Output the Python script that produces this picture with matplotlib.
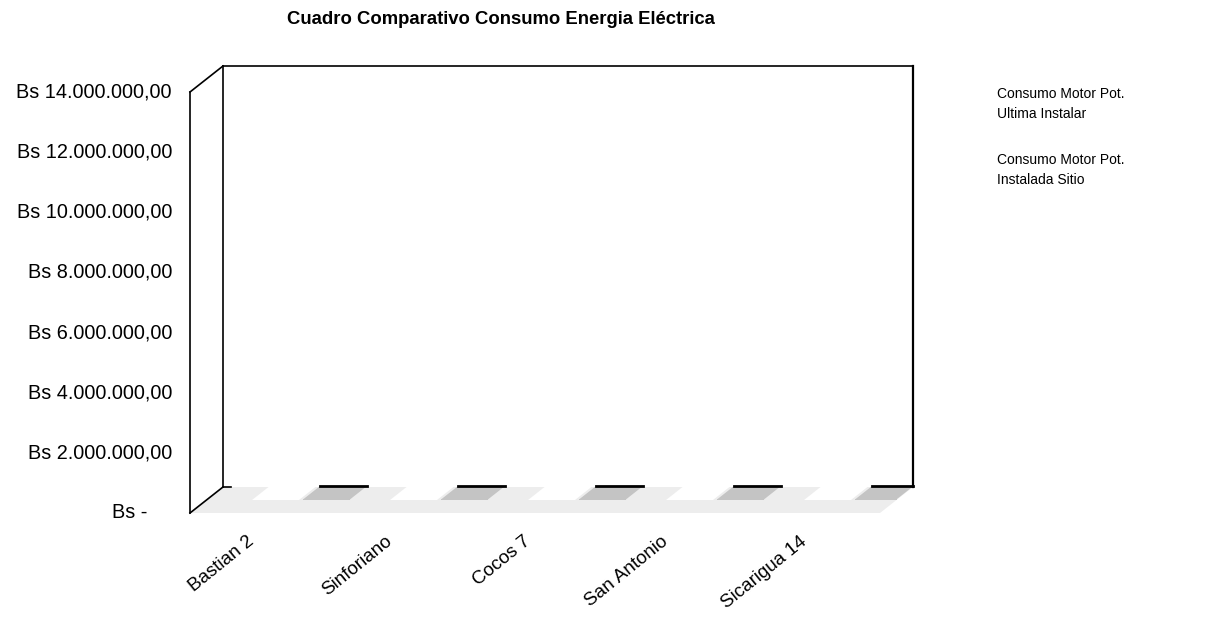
import matplotlib.pyplot as plt
from matplotlib.patches import Polygon, Patch
from matplotlib.lines import Line2D
from matplotlib.transforms import IdentityTransform

plt.rcParams['font.family'] = ['Liberation Sans', 'DejaVu Sans']

categories = ['Bastian 2', 'Sinforiano', 'Cocos 7', 'San Antonio', 'Sicarigua 14']
series_labels = ['Consumo Motor Pot.\nUltima Instalar', 'Consumo Motor Pot.\nInstalada Sitio']
ultima_instalar = [0, 0, 0, 0, 0]
instalada_sitio = [20000, 20000, 20000, 20000, 20000]
y_ticks = [0, 2000000, 4000000, 6000000, 8000000, 10000000, 12000000, 14000000]
y_max = 14000000

# depth of the 3d box in pixels (front -> back)
DX, DY = 33, 26

fig = plt.figure(figsize=(12.05, 6.17), dpi=100)
ax = fig.add_axes([190 / 1205, 104 / 617, 690 / 1205, 421 / 617])
ax.set_xlim(0, len(categories))
ax.set_ylim(0, y_max)
ax.axis('off')


def proj(x, y, z):
    px, py = ax.transData.transform((x, y))
    return px + z * DX, py + z * DY


def face(pts, color, zorder):
    ax.add_patch(Polygon([proj(*p) for p in pts], closed=True, facecolor=color, edgecolor='none',
                         transform=IdentityTransform(), clip_on=False, zorder=zorder))


def edge(p0, p1, lw=1.2, zorder=5):
    a, b = proj(*p0), proj(*p1)
    ax.add_line(Line2D([a[0], b[0]], [a[1], b[1]], color='black', lw=lw,
                       transform=IdentityTransform(), clip_on=False, zorder=zorder))


n = len(categories)
# walls and floor
face([(0, 0, 1), (n, 0, 1), (n, y_max, 1), (0, y_max, 1)], 'white', 1)
face([(0, 0, 0), (n, 0, 0), (n, 0, 1), (0, 0, 1)], '#ededed', 2)
edge((0, 0, 0), (0, y_max, 0))
edge((0, y_max, 0), (0, y_max, 1))
edge((0, 0, 0), (0, 0, 1))
edge((0, 0, 1), (0, y_max, 1))
edge((0, y_max, 1), (n, y_max, 1))
edge((n, y_max, 1), (n, 0, 1), lw=1.6)
edge((0, 0, 1), (0.06, 0, 1))

# bars: both series sit on the back half of the floor
for i in range(n):
    for x0, w, v, col in [(i + 0.33, 0.34, ultima_instalar[i], 'white'),
                          (i + 0.70, 0.34, instalada_sitio[i], '#c4c4c4')]:
        x1 = min(x0 + w, n)
        face([(x0, 0, 0.5), (x1, 0, 0.5), (x1, v, 0.5), (x0, v, 0.5)], col, 3)
        face([(x0, v, 0.5), (x1, v, 0.5), (x1, v, 1), (x0, v, 1)], col, 3)
        if col != 'white':
            edge((x0, v, 1), (x1, v, 1), lw=2.0, zorder=6)

# y tick labels in accounting format
for v in y_ticks:
    if v == 0:
        txt, off = 'Bs -', 43
    else:
        txt = 'Bs ' + f'{v:,.2f}'.replace(',', ' ').replace('.', ',').replace(' ', '.')
        off = 18
    x, y = proj(0, v, 0)
    ax.text(x - off, y, txt, ha='right', va='center', fontsize=14.3,
            transform=IdentityTransform())

# category labels
for i, name in enumerate(categories):
    x, y = proj(i + 0.5, 0, 0)
    ax.text(x - 12, y - 20, name, rotation=39, rotation_mode='anchor', ha='right', va='top',
            fontsize=13.5, transform=IdentityTransform())

fig.text(501 / 1205, 1 - 19 / 617, 'Cuadro Comparativo Consumo Energia Eléctrica',
         ha='center', va='center', fontsize=13.3, fontweight='bold')

handles = [Patch(facecolor='white', edgecolor='none') for _ in series_labels]
leg = fig.legend(handles, series_labels, loc='upper left', bbox_to_anchor=(962 / 1205, 1 - 80 / 617),
                 frameon=False, fontsize=10, handlelength=1.2, handletextpad=0.8,
                 labelspacing=2.3, borderpad=0)
for t in leg.get_texts():
    t.set_linespacing(1.55)

fig.savefig('out.png', dpi=100)
